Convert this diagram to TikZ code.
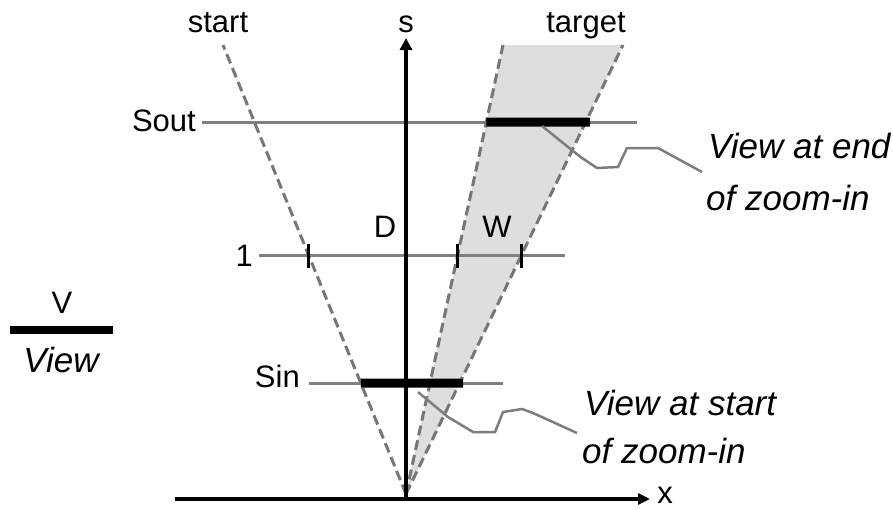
\documentclass[tikz,border=0pt]{standalone}
\usepackage{fontspec}
\setmainfont{Liberation Sans}
\usetikzlibrary{calc,arrows.meta}
\definecolor{guidegray}{RGB}{128,128,128}
\definecolor{dashgray}{RGB}{118,118,118}
\definecolor{fillgray}{RGB}{222,222,222}
\definecolor{leadgray}{RGB}{125,125,125}
\begin{document}
\begin{tikzpicture}[x=1pt,y=-1pt,
  lbl/.style={font=\fontsize{31}{36}\selectfont, inner sep=0pt},
  call/.style={font=\fontsize{35}{42}\selectfont\itshape, inner sep=0pt, anchor=base west},
  guide/.style={draw=guidegray, line width=3pt},
  edgeline/.style={draw=dashgray, line width=3pt, dash pattern=on 10pt off 5pt},
  axis/.style={draw=black, line width=4pt},
  viewbar/.style={draw=black, line width=9pt},
  tickmark/.style={draw=black, line width=2.5pt},
  leader/.style={draw=leadgray, line width=2.5pt, line join=round}]
\useasboundingbox (0,0) rectangle (893,509);

% key points
\coordinate (O) at (406,494);
\coordinate (ST) at (223,45);
\coordinate (TL) at (503,45);
\coordinate (TR) at (623,45);

% target wedge
\fill[fillgray] (O) -- (TL) -- (TR) -- cycle;

% horizontal guide lines
\coordinate (soutA) at (202,122);
\coordinate (soutB) at (637,122);
\coordinate (oneA) at (259,255);
\coordinate (oneB) at (565,255);
\coordinate (sinA) at (309,383);
\coordinate (sinB) at (503,383);
\draw[guide] (soutA) -- (soutB);
\draw[guide] (oneA) -- (oneB);
\draw[guide] (sinA) -- (sinB);

% dashed rays
\draw[edgeline] (O) -- (ST);
\draw[edgeline] (O) -- (TL);
\draw[edgeline] (O) -- (TR);

% axes
\coordinate (sbot) at (406,499);
\coordinate (stop) at (406,38);
\coordinate (xl) at (175,499);
\coordinate (xr) at (650,499);
\draw[axis,-{Triangle[length=12pt,width=12pt]}] (sbot) -- (stop);
\draw[axis,-{Triangle[length=12pt,width=11pt]}] (xl) -- (xr);

% view bars
\coordinate (outL) at ($(O)!0.8285!(TL)$);
\coordinate (outR) at (590,122);
\coordinate (inL) at ($(O)!0.2472!(ST)$);
\coordinate (inR) at (463,383);
\draw[viewbar] (outL) -- (outR);
\draw[viewbar] (inL) -- (inR);

% ticks on line 1
\coordinate (t1) at ($(O)!0.5323!(ST)$);
\coordinate (t2) at ($(O)!0.5323!(TL)$);
\coordinate (t3) at ($(O)!0.5323!(TR)$);
\foreach \p in {t1,t2,t3}
  \draw[tickmark] ($(\p)+(0,-11)$) -- ($(\p)+(0,13)$);

% leaders
\coordinate (endA) at (542,126);
\coordinate (endB) at (702,172);
\draw[leader] (endA) -- (573,151) -- (582,158) -- (597,168) -- (618,167)
   -- (627,148) -- (658,148) -- (endB);
\coordinate (startA) at (418,392);
\coordinate (startB) at (577,433);
\draw[leader] (startA) -- (448,417) -- (473,432) -- (495,432) -- (503,412)
   -- (522,409) -- (533,413) -- (startB);

% labels
\node[lbl, anchor=base] (lstart) at (218,32) {start};
\node[lbl, anchor=base] (ls) at (406,32) {s};
\node[lbl, anchor=base] (ltarget) at (586,32) {target};
\node[lbl, anchor=base east] (lsout) at (196,131) {Sout};
\node[lbl, anchor=base east] (lone) at (253,266) {1};
\node[lbl, anchor=base east] (lsin) at (300,387) {Sin};
\node[lbl, anchor=base] (lD) at (385,237) {D};
\node[lbl, anchor=base] (lW) at (497,237) {W};
\node[lbl, anchor=base] (lx) at (665,503) {x};

% V / View fraction
\node[lbl, anchor=base] (lV) at (62,313) {V};
\coordinate (fracL) at (10,330);
\coordinate (fracR) at (113,330);
\draw[draw=black, line width=8pt] (fracL) -- (fracR);
\node[call, anchor=base] (lview) at (61,372) {View};

% callouts
\node[call] (endt1) at (708,158) {View at end};
\node[call] (endt2) at (706,210) {of zoom-in};
\node[call] (startt1) at (584,415) {View at start};
\node[call] (startt2) at (582,463) {of zoom-in};
\end{tikzpicture}
\end{document}
